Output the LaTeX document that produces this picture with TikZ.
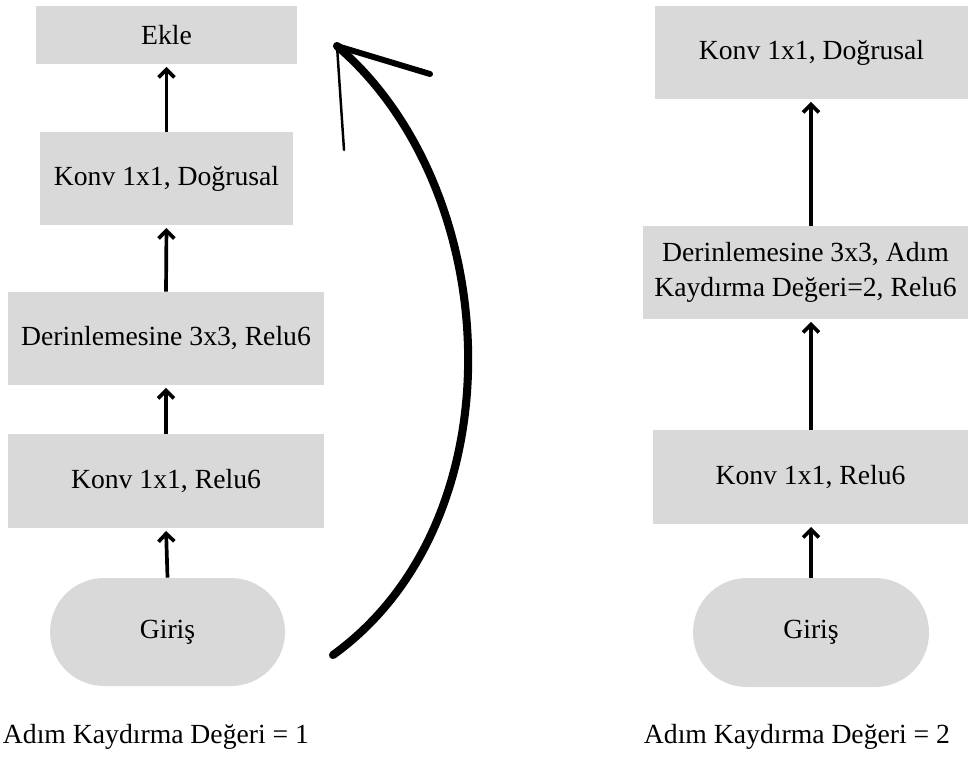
\documentclass[tikz,border=0pt]{standalone}
\usepackage{fontspec}
\setmainfont{Liberation Serif}
\usepackage{tikz}
\usetikzlibrary{arrows.meta}
\definecolor{kutugri}{RGB}{217,217,217}

\begin{document}
\begin{tikzpicture}[x=0.02cm, y=-0.02cm,
    font=\fontsize{15.75pt}{20pt}\selectfont,
    blok/.style={fill=kutugri, inner sep=0pt, align=center, minimum height=1.86cm},
    giris/.style={fill=kutugri, inner sep=0pt, minimum width=4.7cm, minimum height=2.16cm, rounded corners=1.08cm},
    ok/.style={-{Straight Barb[length=4.5pt, width=9pt]}, line width=2.1pt, shorten >=1.5pt}]
\useasboundingbox (0,0) rectangle (969,764);

% adim = 1
\node[blok, minimum width=5.22cm, minimum height=1.16cm] (ekle) at (166.5,35) {Ekle};
\node[blok, minimum width=5.06cm] (konvd1) at (166.5,178.5) {Konv 1x1, Doğrusal};
\node[blok, minimum width=6.32cm] (derin1) at (166,338.5) {Derinlemesine 3x3, Relu6};
\node[blok, minimum width=6.32cm, minimum height=1.88cm] (konvr1) at (166,481) {Konv 1x1, Relu6};
\node[giris] (giris1) at (167.5,632) {Giriş};
\node (etiket1) at (156,737) {Adım Kaydırma Değeri = 1};

\foreach \a/\b in {giris1/konvr1, konvr1/derin1, derin1/konvd1, konvd1/ekle}
    {\draw[ok] (\a.north) -- (\b.south);}

% kisayol
\coordinate (donusbas) at (333,655);
\coordinate (donusuc) at (337,46);
\draw[line width=4.6pt, line cap=round] (donusbas) .. controls (520,520) and (505,190) .. (donusuc);
\draw[line width=3.4pt, line cap=round] (donusuc) -- (430,74);
\draw[line width=1.4pt, line cap=round] (donusuc) -- (344,150);

% adim = 2
\node[blok, minimum width=6.26cm] (konvd2) at (811.5,52.5) {Konv 1x1, Doğrusal};
\node[blok, minimum width=6.5cm] (derin2) at (805.5,272.5) {Derinlemesine 3x3, Adım\\Kaydırma Değeri=2, Relu6};
\node[blok, minimum width=6.3cm, minimum height=1.88cm] (konvr2) at (810.5,477) {Konv 1x1, Relu6};
\node[giris, minimum width=4.72cm, minimum height=2.18cm] (giris2) at (811,632.5) {Giriş};
\node (etiket2) at (797,737) {Adım Kaydırma Değeri = 2};

\foreach \a/\b in {giris2/konvr2, konvr2/derin2, derin2/konvd2}
    {\draw[ok] (\a.north -| giris2) -- (\b.south -| giris2);}

\end{tikzpicture}
\end{document}
